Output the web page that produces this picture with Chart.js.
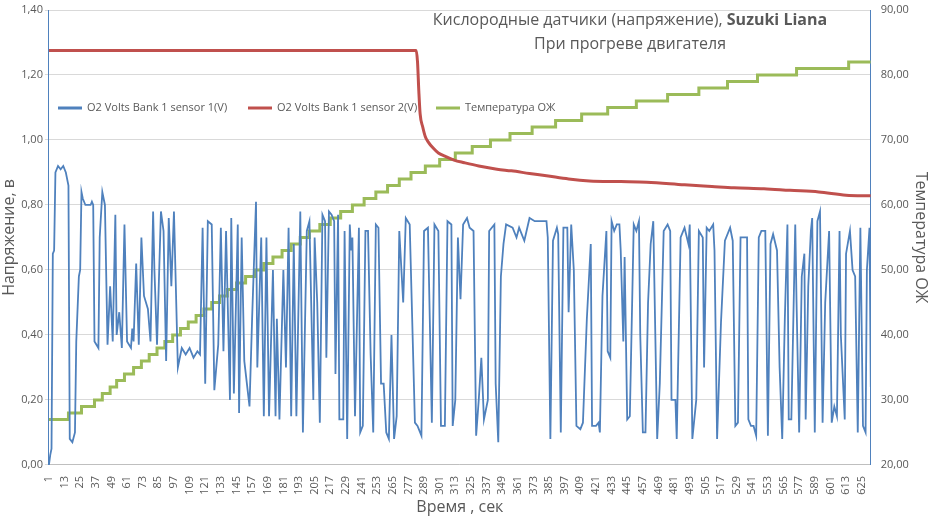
<!DOCTYPE html>
<html><head><meta charset="utf-8">
<script src="https://cdn.jsdelivr.net/npm/chart.js@4"></script>
<style>html,body{margin:0;padding:0;background:#fff}#w{width:932px;height:519px}</style>
</head><body><div id="w"><canvas id="c"></canvas></div>
<script>
const blueX=[1,2,3,4,5,6,8,10,12,14,16,17,19,21,22,24,25,26,27,29,33,34,35,36,39,40,42,44,46,48,50,52,53,55,57,59,61,64,65,66,68,70,72,74,77,79,81,82,84,87,89,91,93,95,97,100,103,106,109,112,115,117,119,121,123,126,128,131,133,135,137,140,141,143,146,147,149,151,155,157,160,161,164,166,168,170,173,175,176,178,181,183,185,187,189,191,194,196,199,
201,204,205,207,209,211,213,214,216,218,220,221,223,224,227,228,230,232,233,234,236,239,240,242,244,246,248,250,252,254,256,258,260,262,264,266,268,270,273,275,278,282,284,287,289,292,295,297,300,302,305,307,310,311,313,315,317,319,322,324,327,329,331,333,335,338,339,343,344,346,348,350,352,357,360,362,366,370,374,379,383,384,386,388,391,392,394,396,399,400,402,404,406,409,
411,414,417,418,421,423,424,426,429,430,432,433,435,437,439,440,442,443,445,447,450,452,454,455,457,459,461,463,465,468,470,473,476,478,479,482,483,486,489,492,493,495,498,500,503,504,506,508,511,512,514,517,520,524,526,528,530,532,537,538,540,542,544,546,548,551,553,555,557,560,562,564,566,568,569,571,574,575,577,579,581,582,584,586,587,589,591,593,595,597,600,602,604,606,608,609,612,613,616,618,620,622,624,626,628,629,631,632];
const blueY=[0.0,0.03,0.05,0.65,0.66,0.9,0.92,0.91,0.92,0.9,0.86,0.08,0.07,0.1,0.38,0.58,0.6,0.84,0.82,0.8,0.8,0.81,0.8,0.38,0.36,0.7,0.84,0.8,0.37,0.55,0.38,0.77,0.4,0.47,0.36,0.74,0.38,0.36,0.42,0.38,0.62,0.37,0.7,0.52,0.48,0.38,0.78,0.6,0.37,0.78,0.72,0.32,0.76,0.55,0.78,0.3,0.36,0.34,0.36,0.33,0.35,0.34,0.73,0.25,0.75,0.74,0.23,0.37,0.73,0.35,0.72,0.2,0.76,0.22,0.74,0.16,0.7,0.32,0.18,0.45,0.81,0.3,0.7,0.15,0.7,0.15,0.6,0.15,0.45,0.14,0.6,0.3,0.73,0.15,0.68,0.15,0.78,0.1,0.72,
0.75,0.2,0.7,0.5,0.13,0.77,0.75,0.33,0.78,0.77,0.75,0.28,0.77,0.14,0.14,0.72,0.08,0.74,0.66,0.7,0.15,0.73,0.1,0.12,0.72,0.72,0.34,0.1,0.74,0.73,0.25,0.25,0.1,0.08,0.4,0.08,0.15,0.72,0.5,0.76,0.74,0.13,0.12,0.09,0.72,0.73,0.13,0.74,0.72,0.12,0.12,0.75,0.74,0.12,0.2,0.7,0.51,0.74,0.76,0.73,0.72,0.09,0.2,0.33,0.14,0.2,0.72,0.74,0.25,0.07,0.58,0.68,0.74,0.73,0.7,0.73,0.69,0.76,0.75,0.75,0.75,0.7,0.08,0.69,0.73,0.71,0.1,0.73,0.73,0.47,0.74,0.6,0.12,0.11,
0.13,0.45,0.68,0.12,0.12,0.13,0.1,0.52,0.72,0.35,0.33,0.75,0.72,0.74,0.74,0.66,0.38,0.64,0.14,0.15,0.74,0.72,0.75,0.4,0.1,0.1,0.5,0.68,0.75,0.08,0.25,0.72,0.74,0.72,0.2,0.2,0.08,0.7,0.73,0.68,0.74,0.08,0.2,0.72,0.7,0.3,0.73,0.72,0.74,0.66,0.08,0.44,0.69,0.73,0.69,0.12,0.13,0.7,0.7,0.14,0.12,0.12,0.09,0.7,0.72,0.72,0.09,0.68,0.71,0.66,0.3,0.08,0.45,0.74,0.14,0.14,0.74,0.5,0.1,0.58,0.65,0.14,0.55,0.72,0.76,0.1,0.75,0.78,0.13,0.5,0.72,0.13,0.18,0.15,0.72,0.4,0.14,0.65,0.72,0.6,0.58,0.1,0.73,0.12,0.1,0.6,0.73,0.24];
const redX=[1,283,284,285,286,288,290,292,296,300,305,312,320,331,345,356,370,383,400,416,440,460,489,510,527,550,570,592,613,632];
const redY=[1.275,1.275,1.24,1.15,1.08,1.04,1.01,0.995,0.975,0.96,0.95,0.938,0.93,0.92,0.91,0.905,0.897,0.89,0.88,0.874,0.872,0.87,0.862,0.857,0.853,0.85,0.845,0.84,0.83,0.828];
const greenX=[1,16,26,36,42,48,53,59,66,72,78,84,90,96,102,108,114,120,126,132,138,145,152,159,166,173,180,187,194,201,209,217,225,234,243,252,261,270,279,290,301,313,326,340,355,372,390,410,430,452,476,500,522,545,575,615,632];
const greenY=[27,28,29,30,31,32,33,34,35,36,37,38,39,40,41,42,43,44,45,46,47,48,49,50,51,52,53,54,55,56,57,58,59,60,61,62,63,64,65,66,67,68,69,70,71,72,73,74,75,76,77,78,79,80,81,82,82];
const tickLabels=[];for(let v=1;v<=625;v+=12)tickLabels.push(v);
const seriesNames=['O2 Volts Bank 1 sensor 1(V)','O2 Volts Bank 1 sensor 2(V)','Температура ОЖ'];
const colors=['#4F81BD','#C0504D','#9BBB59'];
const pts=(xs,ys)=>xs.map((x,i)=>({x,y:ys[i]}));
const fmt=v=>v.toFixed(2).replace('.',',');
const F='"Open Sans",sans-serif';
const deco={id:'deco',afterDraw(ch){const c=ch.ctx;c.save();
c.fillStyle='#595959';c.textBaseline='middle';
const t1='Кислородные датчики (напряжение), ',t2='Suzuki Liana';
c.font='16px '+F;const w1=c.measureText(t1).width;c.font='bold 16px '+F;const w2=c.measureText(t2).width;
let x0=630-(w1+w2)/2;c.font='16px '+F;c.textAlign='left';c.fillText(t1,x0,20);c.font='bold 16px '+F;c.fillText(t2,x0+w1,20);
c.font='16px '+F;c.textAlign='center';c.fillText('При прогреве двигателя',630,44);
c.font='11px '+F;c.textAlign='left';const lx=[58,248,436];
for(let i=0;i<3;i++){c.strokeStyle=colors[i];c.lineWidth=3;c.beginPath();c.moveTo(lx[i],108);c.lineTo(lx[i]+24,108);c.stroke();c.fillStyle='#595959';c.fillText(seriesNames[i],lx[i]+29,108);}
c.restore();}};
new Chart(document.getElementById('c'),{type:'line',
data:{datasets:[
{label:seriesNames[0],data:pts(blueX,blueY),borderColor:colors[0],borderWidth:1.8,pointRadius:0,yAxisID:'y',tension:0},
{label:seriesNames[1],data:pts(redX,redY),borderColor:colors[1],borderWidth:3,pointRadius:0,yAxisID:'y',cubicInterpolationMode:'monotone'},
{label:seriesNames[2],data:pts(greenX,greenY),borderColor:colors[2],borderWidth:3,pointRadius:0,yAxisID:'y2',stepped:'before'}]},
options:{responsive:true,maintainAspectRatio:false,animation:false,
layout:{padding:{left:0,right:2,top:10,bottom:2}},
plugins:{legend:{display:false},tooltip:{enabled:false}},
scales:{
x:{type:'linear',min:1,max:632,afterBuildTicks:ax=>{ax.ticks=tickLabels.map(v=>({value:v}));},
ticks:{autoSkip:false,maxRotation:90,minRotation:90,color:'#595959',font:{size:11,family:F}},
grid:{display:false},border:{color:'#BFBFBF'},
title:{display:true,text:'Время , сек',color:'#595959',font:{size:16,family:F},padding:0}},
y:{min:0,max:1.4,position:'left',ticks:{stepSize:0.2,padding:2,color:'#595959',font:{size:11,family:F},callback:v=>fmt(v)},
grid:{color:'#D9D9D9',tickLength:4},border:{color:'#4F81BD'},
title:{display:true,text:'Напряжение, в',color:'#595959',font:{size:16,family:F},padding:0}},
y2:{min:20,max:90,position:'right',ticks:{stepSize:10,padding:2,color:'#595959',font:{size:11,family:F},callback:v=>fmt(v)},
grid:{display:false},border:{color:'#4F81BD'},
title:{display:true,text:'Температура ОЖ',color:'#595959',font:{size:16,family:F},padding:0}}}},
plugins:[deco]});
</script></body></html>
